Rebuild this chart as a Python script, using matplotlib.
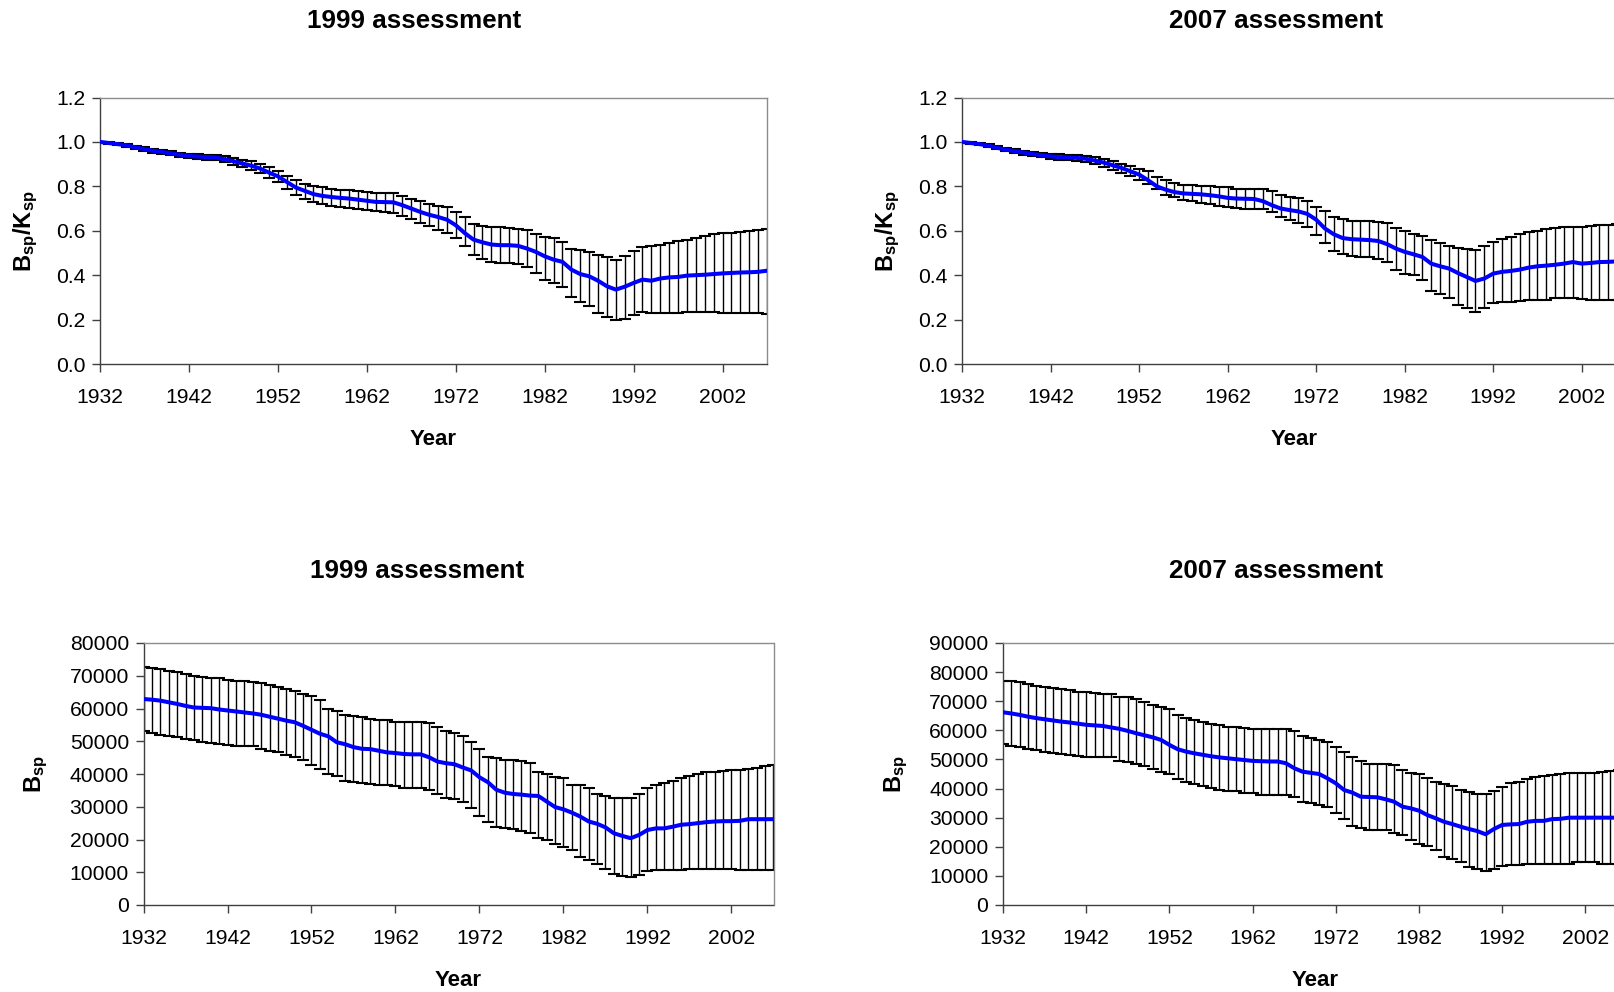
import numpy as np
import matplotlib
matplotlib.use("Agg")
import matplotlib.pyplot as plt

plt.rcParams['font.family'] = ['Liberation Sans', 'DejaVu Sans']
plt.rcParams['mathtext.fontset'] = 'custom'
plt.rcParams['mathtext.rm'] = 'Liberation Sans'
plt.rcParams['mathtext.bf'] = 'Liberation Sans:bold'
plt.rcParams['mathtext.it'] = 'Liberation Sans:italic'

years = list(range(1932, 2008))
year_ticks = [1932, 1942, 1952, 1962, 1972, 1982, 1992, 2002]

# Depletion (Bsp/Ksp), 1999 assessment
dep99_mean = [1.0, 0.995, 0.99, 0.985, 0.975, 0.968, 0.96, 0.955, 0.948, 0.942,
              0.937, 0.934, 0.932, 0.93, 0.922, 0.913, 0.903, 0.893, 0.88, 0.862,
              0.845, 0.82, 0.795, 0.78, 0.765, 0.757, 0.752, 0.748, 0.745, 0.74,
              0.735, 0.73, 0.729, 0.728, 0.715, 0.7, 0.685, 0.672, 0.662, 0.65,
              0.625, 0.59, 0.56, 0.548, 0.538, 0.535, 0.535, 0.532, 0.52, 0.505,
              0.485, 0.47, 0.46, 0.425, 0.405, 0.395, 0.375, 0.35, 0.335, 0.348,
              0.365, 0.38, 0.375, 0.385, 0.39, 0.392, 0.398, 0.40, 0.402, 0.405,
              0.408, 0.41, 0.412, 0.413, 0.415, 0.42]
dep99_upper = [1.0, 1.0, 0.995, 0.99, 0.982, 0.975, 0.968, 0.962, 0.957, 0.952,
               0.947, 0.944, 0.943, 0.942, 0.935, 0.928, 0.92, 0.912, 0.9, 0.885,
               0.87, 0.848, 0.828, 0.81, 0.80, 0.795, 0.79, 0.785, 0.782, 0.778,
               0.775, 0.772, 0.77, 0.768, 0.758, 0.745, 0.733, 0.722, 0.713, 0.705,
               0.686, 0.664, 0.63, 0.62, 0.615, 0.615, 0.614, 0.61, 0.603, 0.585,
               0.57, 0.568, 0.55, 0.52, 0.512, 0.503, 0.49, 0.48, 0.47, 0.486,
               0.51, 0.525, 0.53, 0.538, 0.546, 0.553, 0.56, 0.568, 0.578, 0.585,
               0.589, 0.592, 0.596, 0.6, 0.602, 0.607]
dep99_lower = [0.995, 0.99, 0.985, 0.978, 0.968, 0.96, 0.952, 0.946, 0.94, 0.933,
               0.927, 0.923, 0.92, 0.918, 0.908, 0.897, 0.886, 0.874, 0.858, 0.838,
               0.818, 0.79, 0.763, 0.745, 0.73, 0.72, 0.713, 0.707, 0.703, 0.697,
               0.692, 0.687, 0.683, 0.681, 0.668, 0.652, 0.636, 0.62, 0.605, 0.592,
               0.566, 0.53, 0.49, 0.472, 0.458, 0.455, 0.453, 0.45, 0.435, 0.41,
               0.378, 0.365, 0.345, 0.3, 0.28, 0.263, 0.228, 0.21, 0.198, 0.203,
               0.222, 0.232, 0.228, 0.229, 0.229, 0.229, 0.232, 0.235, 0.235, 0.235,
               0.23, 0.228, 0.228, 0.228, 0.228, 0.227]

# Depletion (Bsp/Ksp), 2007 assessment
dep07_mean = [1.0, 0.995, 0.99, 0.983, 0.973, 0.965, 0.958, 0.952, 0.945, 0.94,
              0.935, 0.932, 0.93, 0.928, 0.924, 0.916, 0.907, 0.895, 0.883, 0.868,
              0.853, 0.828, 0.80, 0.785, 0.774, 0.768, 0.766, 0.764, 0.76, 0.755,
              0.748, 0.745, 0.744, 0.743, 0.733, 0.715, 0.70, 0.693, 0.687, 0.676,
              0.65, 0.61, 0.584, 0.567, 0.562, 0.56, 0.558, 0.554, 0.54, 0.52,
              0.505, 0.494, 0.482, 0.452, 0.44, 0.43, 0.41, 0.392, 0.374, 0.385,
              0.407, 0.415, 0.419, 0.425, 0.434, 0.44, 0.443, 0.447, 0.452, 0.459,
              0.452, 0.455, 0.459, 0.46, 0.462, 0.465]
dep07_upper = [1.0, 1.0, 0.995, 0.99, 0.98, 0.973, 0.967, 0.961, 0.955, 0.95,
               0.946, 0.944, 0.943, 0.942, 0.938, 0.932, 0.925, 0.915, 0.9, 0.89,
               0.878, 0.868, 0.84, 0.83, 0.814, 0.808, 0.806, 0.80, 0.80, 0.796,
               0.795, 0.79, 0.789, 0.789, 0.787, 0.781, 0.763, 0.754, 0.748, 0.733,
               0.709, 0.69, 0.661, 0.654, 0.646, 0.646, 0.646, 0.639, 0.634, 0.613,
               0.598, 0.584, 0.576, 0.557, 0.545, 0.53, 0.522, 0.516, 0.515, 0.531,
               0.549, 0.564, 0.572, 0.584, 0.594, 0.599, 0.607, 0.613, 0.615, 0.617,
               0.617, 0.621, 0.624, 0.628, 0.63, 0.632]
dep07_lower = [0.995, 0.99, 0.985, 0.977, 0.966, 0.957, 0.949, 0.943, 0.935, 0.93,
               0.924, 0.92, 0.917, 0.914, 0.91, 0.9, 0.889, 0.875, 0.862, 0.845,
               0.83, 0.81, 0.79, 0.76, 0.751, 0.738, 0.733, 0.725, 0.72, 0.712,
               0.709, 0.703, 0.70, 0.70, 0.698, 0.684, 0.661, 0.65, 0.634, 0.616,
               0.579, 0.546, 0.509, 0.497, 0.485, 0.482, 0.48, 0.474, 0.459, 0.422,
               0.407, 0.40, 0.377, 0.329, 0.317, 0.299, 0.265, 0.25, 0.235, 0.25,
               0.275, 0.28, 0.28, 0.284, 0.287, 0.29, 0.29, 0.295, 0.297, 0.297,
               0.293, 0.29, 0.29, 0.29, 0.29, 0.29]

# Spawning biomass (Bsp), 1999 assessment
bsp99_mean = [62900, 62700, 62400, 61900, 61400, 60800, 60300, 60200, 60100, 59700,
              59400, 59100, 58800, 58500, 58100, 57500, 56900, 56300, 55800, 54700,
              53500, 52300, 51500, 49700, 49100, 48200, 47700, 47600, 47100, 46600,
              46400, 46100, 46000, 46000, 45100, 43800, 43300, 43000, 42000, 41100,
              39000, 37500, 35200, 34300, 33900, 33700, 33400, 33300, 31600, 29900,
              29200, 28200, 27000, 25500, 24800, 23700, 21900, 21100, 20400, 21400,
              22900, 23400, 23400, 23900, 24500, 24700, 25000, 25300, 25500, 25600,
              25600, 25700, 26200, 26200, 26200, 26200]
bsp99_upper = [72700, 72400, 72100, 71600, 71100, 70600, 70000, 69600, 69400, 69200,
               68700, 68500, 68300, 68100, 67800, 67300, 66500, 65900, 65200, 64500,
               63700, 62500, 59800, 59100, 58100, 57600, 57300, 56800, 56600, 56400,
               55800, 55800, 55800, 55800, 55500, 54200, 53200, 52500, 51700, 49900,
               47700, 45300, 44800, 44300, 44300, 44100, 43500, 40500, 40000, 39200,
               38700, 36700, 36500, 35700, 33900, 33400, 32800, 32600, 32600, 33900,
               35700, 36500, 37200, 38000, 38700, 39400, 40000, 40500, 40700, 40800,
               41100, 41300, 41600, 41800, 42300, 42600]
bsp99_lower = [53000, 52500, 52000, 51500, 51300, 50800, 50400, 49900, 49400, 49200,
               48900, 48600, 48600, 48600, 47600, 47100, 46600, 45900, 45300, 44300,
               42600, 41500, 39900, 39500, 38000, 37700, 37400, 37000, 36700, 36500,
               36200, 35700, 35700, 35700, 35200, 33900, 32800, 32300, 31600, 29600,
               27300, 25300, 23900, 23400, 23100, 22600, 21900, 20500, 19700, 18500,
               17600, 16700, 14600, 13800, 12400, 10900, 9600, 8900, 8700, 9200,
               10500, 10700, 10700, 10800, 10800, 10900, 10900, 11000, 11000, 11000,
               10900, 10800, 10700, 10600, 10600, 10600]

# Spawning biomass (Bsp), 2007 assessment
bsp07_mean = [66200, 65800, 65300, 64700, 64200, 63800, 63400, 63000, 62700, 62300,
              61900, 61700, 61500, 61000, 60500, 59800, 59000, 58300, 57600, 56700,
              55000, 53500, 52700, 52100, 51600, 51100, 50700, 50400, 50100, 49800,
              49500, 49400, 49300, 49300, 48700, 47000, 45800, 45400, 45000, 43500,
              41800, 39500, 38600, 37200, 37100, 37000, 36300, 35500, 33800, 33200,
              32400, 30900, 29800, 28600, 27800, 26900, 26100, 25400, 24300, 26100,
              27500, 27700, 27800, 28600, 28900, 28900, 29500, 29600, 30000, 30000,
              30000, 30000, 30000, 30000, 30000, 30200]
bsp07_upper = [77000, 76800, 76600, 76000, 75400, 74800, 74500, 74100, 73700, 73300,
               73000, 72800, 72500, 72500, 71600, 71300, 70800, 69700, 68800, 68000,
               67300, 65300, 64200, 63400, 62800, 62200, 61700, 61300, 61100, 60700,
               60400, 60400, 60400, 60400, 60400, 59600, 58100, 57300, 56700, 55900,
               54200, 52400, 50800, 49300, 48500, 48500, 48500, 48100, 46400, 45500,
               45000, 43500, 42100, 41600, 41000, 39500, 38700, 38200, 38200, 39300,
               40700, 41800, 42400, 43200, 43900, 44400, 44700, 45000, 45300, 45500,
               45500, 45500, 45800, 46200, 46400, 46400]
bsp07_lower = [55400, 54700, 54400, 53600, 53100, 52400, 52100, 51900, 51600, 51200,
               50800, 50800, 50800, 50800, 49500, 49000, 48500, 47600, 46800, 45800,
               45000, 43200, 42100, 41500, 40900, 40100, 39500, 39300, 39000, 38600,
               38400, 37800, 37800, 37800, 37800, 37000, 35500, 35000, 34400, 33600,
               31500, 29500, 27300, 26400, 25600, 25600, 25600, 24600, 24100, 22300,
               21000, 20100, 18900, 16600, 15700, 14700, 13200, 12300, 11800, 12300,
               13400, 13800, 13800, 14100, 14100, 14100, 14100, 14100, 14100, 14700,
               14700, 14700, 14100, 14100, 14100, 14100]

W, H = 1614, 992
fig = plt.figure(figsize=(W / 100, H / 100), dpi=100)


def px_axes(x0, x1, y0, y1):
    """Axes from pixel bounds (y measured from the top)."""
    return fig.add_axes([x0 / W, 1 - y1 / H, (x1 - x0) / W, (y1 - y0) / H])


def panel(ax, mean, lower, upper, yticks, fmt):
    mean = np.asarray(mean, float)
    lo = np.asarray(lower, float)
    up = np.asarray(upper, float)
    ax.errorbar(years, mean, yerr=[mean - lo, up - mean], fmt='none',
                ecolor='black', elinewidth=1.0, capsize=4.4, capthick=1.5,
                zorder=2)
    ax.plot(years, mean, color='#0000FF', lw=2.9, zorder=3,
            solid_joinstyle='round')
    ax.set_xlim(years[0], years[-1])
    ax.set_ylim(yticks[0], yticks[-1])
    ax.set_xticks(year_ticks)
    ax.set_yticks(yticks)
    ax.set_yticklabels([fmt.format(v) for v in yticks])
    for side in ('left', 'bottom'):
        ax.spines[side].set_color('#404040')
        ax.spines[side].set_linewidth(1.0)
    for side in ('top', 'right'):
        ax.spines[side].set_color('#8c8c8c')
        ax.spines[side].set_linewidth(1.0)
    ax.tick_params(axis='x', direction='out', length=5.5, width=1.0,
                   color='#404040', labelsize=15.2, pad=12)
    ax.tick_params(axis='y', direction='out', length=5.5, width=1.0,
                   color='#404040', labelsize=15.2, pad=5)


dep_ticks = [0.0, 0.2, 0.4, 0.6, 0.8, 1.0, 1.2]
ax_tl = px_axes(100, 767, 97.5, 364)
panel(ax_tl, dep99_mean, dep99_lower, dep99_upper, dep_ticks, '{:.1f}')
ax_tr = px_axes(962, 1626, 97.5, 364)
panel(ax_tr, dep07_mean, dep07_lower, dep07_upper, dep_ticks, '{:.1f}')

ax_bl = px_axes(143.5, 773.5, 643, 905)
panel(ax_bl, bsp99_mean, bsp99_lower, bsp99_upper,
      list(range(0, 80001, 10000)), '{:d}')
ax_br = px_axes(1003, 1627, 643, 905)
panel(ax_br, bsp07_mean, bsp07_lower, bsp07_upper,
      list(range(0, 90001, 10000)), '{:d}')


def ftext(x, y, s, **kw):
    fig.text(x / W, 1 - y / H, s, ha='center', va='center', **kw)


# Panel titles
ftext(414, 21.5, '1999 assessment', fontsize=18.7, fontweight='bold')
ftext(1276, 21.5, '2007 assessment', fontsize=18.7, fontweight='bold')
ftext(417, 571, '1999 assessment', fontsize=18.7, fontweight='bold')
ftext(1276, 571, '2007 assessment', fontsize=18.7, fontweight='bold')

# Axis titles
ftext(433.5, 439, 'Year', fontsize=16, fontweight='bold')
ftext(1294, 439, 'Year', fontsize=16, fontweight='bold')
ftext(458.5, 981, 'Year', fontsize=16, fontweight='bold')
ftext(1315, 981, 'Year', fontsize=16, fontweight='bold')

ftext(26, 231, r'$\mathbf{B_{sp}/K_{sp}}$', fontsize=17, rotation=90)
ftext(888, 231, r'$\mathbf{B_{sp}/K_{sp}}$', fontsize=17, rotation=90)
ftext(36, 774, r'$\mathbf{B_{sp}}$', fontsize=17, rotation=90)
ftext(896, 774, r'$\mathbf{B_{sp}}$', fontsize=17, rotation=90)

fig.savefig('out.png', dpi=100, facecolor='white')
